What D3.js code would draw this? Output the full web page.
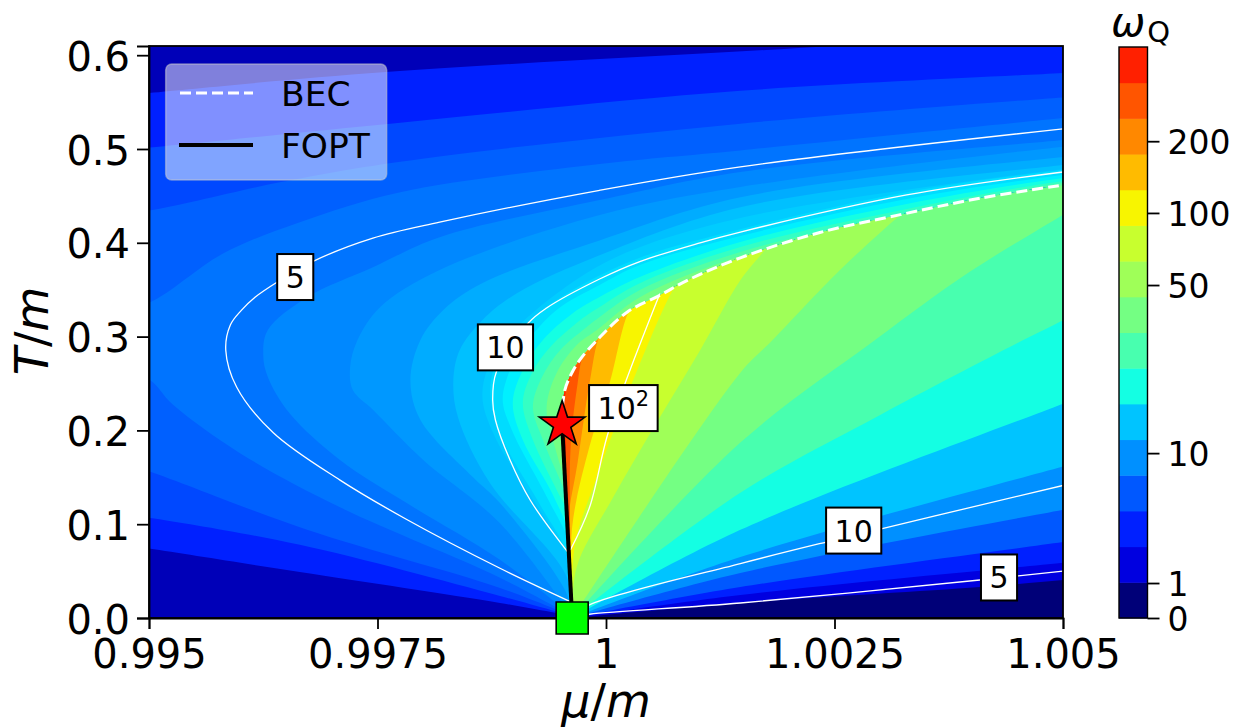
<html>
<head>
<title>Phase diagram</title>
<script src="https://d3js.org/d3.v7.min.js"></script>
<style>
body { margin: 0; background: #fff; }
text { font-family: "DejaVu Sans"; fill: #000; }
.domain { stroke-width: 1.8; }
.tick line { stroke-width: 1.8; }
</style>
</head>
<body>
<div></div>
<script>
// tick values and labels
var xTicks = [0.995, 0.9975, 1, 1.0025, 1.005];
var xTickLabels = ["0.995", "0.9975", "1", "1.0025", "1.005"];
var yTicks = [0, 0.1, 0.2, 0.3, 0.4, 0.5, 0.6];
var yTickLabels = ["0.0", "0.1", "0.2", "0.3", "0.4", "0.5", "0.6"];
// colorbar ticks, given as position along the 16 bands
var cbTicks = [0, 0.98, 4.62, 9.33, 11.35, 13.36];
var cbTickLabels = ["0", "1", "10", "50", "100", "200"];

// phase lines [mu/m, T/m]
var fopt = [[0.99963, 0], [0.99952, 0.2063]];
var bec = [[0.99951, 0.208], [0.99955, 0.243], [0.99963, 0.262], [0.99972, 0.276], [0.9999, 0.296], [1.00023, 0.326], [1.00059, 0.344], [1.00089, 0.36], [1.00147, 0.384], [1.00234, 0.411], [1.00322, 0.43], [1.00409, 0.4475], [1.005, 0.4615]];
var starPoint = [0.99952, 0.2063];
var squarePoint = [0.99963, 0];

// white contours
var line5Left = [[0.99962, 0.017], [0.99884, 0.053], [0.99782, 0.105], [0.99709, 0.147], [0.99636, 0.1975], [0.99596, 0.246], [0.99584, 0.2855], [0.99589, 0.3124], [0.99601, 0.328], [0.99616, 0.342], [0.9964, 0.358], [0.99679, 0.38], [0.99745, 0.405], [0.99818, 0.422], [0.99993, 0.456], [1.00147, 0.481], [1.005, 0.5215]];
var line10Left = [[0.99958, 0.0705], [0.99917, 0.1258], [0.99895, 0.1684], [0.99879, 0.2111], [0.99876, 0.2324], [0.9988, 0.2623], [0.99915, 0.3145], [0.99935, 0.3305], [0.99993, 0.3614], [1.00037, 0.38], [1.00103, 0.4], [1.00147, 0.4115], [1.00329, 0.451], [1.005, 0.4755]];
var line100 = [[0.99961, 0.0725], [0.99982, 0.118], [1.00001, 0.193], [1.00021, 0.2505], [1.00059, 0.346]];
var line10Right = [[0.99963, 0.001], [0.99982, 0.014], [1.00147, 0.058], [1.00241, 0.081], [1.005, 0.1413]];
var line5Right = [[0.99963, 0.001], [0.99982, 0.004], [1.00147, 0.016], [1.00409, 0.0405], [1.005, 0.05]];

// contour labels
var labelText = ["5", "10", "10", "10", "5"];
var labelSup = ["", "", "2", "", ""];
var labelMu = [0.9966, 0.9989, 1.00019, 1.00271, 1.0043];
var labelT = [0.3635, 0.2885, 0.2238, 0.0932, 0.0432];

// filled bands above the BEC and FOPT lines, outermost first
var apex = [0.99963, 0.002];
var bandA1 = [apex, [0.99884, 0.016], [0.99665, 0.049], [0.995, 0.074], [0.9945, 0.081], [0.9945, 0.555], [0.995, 0.5597], [0.99759, 0.582], [1.00248, 0.6098], [1.0055, 0.63]];
var bandA2 = [apex, [0.99884, 0.0235], [0.99665, 0.078], [0.995, 0.107], [0.9945, 0.113], [0.9945, 0.497], [0.995, 0.5015], [0.99775, 0.528], [1.00147, 0.562], [1.005, 0.581], [1.0055, 0.584]];
var bandA3 = [apex, [0.99884, 0.032], [0.99673, 0.094], [0.995, 0.1565], [0.9945, 0.172], [0.9945, 0.43], [0.995, 0.4345], [0.99643, 0.4645], [0.99775, 0.4865], [1.00147, 0.527], [1.005, 0.555], [1.0055, 0.558]];
var bandA4 = [apex, [0.99884, 0.043], [0.99709, 0.118], [0.996, 0.1755], [0.99526, 0.2275], [0.995, 0.2545], [0.9945, 0.274], [0.9945, 0.324], [0.995, 0.336], [0.99581, 0.3885], [0.99665, 0.422], [0.99775, 0.454], [0.99993, 0.484], [1.00147, 0.4985], [1.005, 0.533], [1.0055, 0.538]];
var bandA5 = [apex, [0.99884, 0.062], [0.99782, 0.1225], [0.99709, 0.1685], [0.99654, 0.218], [0.9963, 0.257], [0.99625, 0.28], [0.9963, 0.307], [0.99673, 0.342], [0.99745, 0.374], [0.99818, 0.406], [0.99993, 0.4455], [1.00147, 0.4755], [1.005, 0.5095], [1.0055, 0.514]];
var bandA6 = [apex, [0.99884, 0.101], [0.998, 0.1685], [0.99745, 0.222], [0.99723, 0.243], [0.9972, 0.267], [0.99728, 0.296], [0.99753, 0.3315], [0.99818, 0.371], [0.99993, 0.4295], [1.00147, 0.4595], [1.005, 0.5025], [1.0055, 0.507]];
var bandA7 = [apex, [0.99955, 0.03], [0.99884, 0.1225], [0.99854, 0.1505], [0.99797, 0.2111], [0.99786, 0.2537], [0.99797, 0.2964], [0.99822, 0.3284], [0.99865, 0.3571], [0.99993, 0.4025], [1.00147, 0.4485], [1.005, 0.4915], [1.0055, 0.496]];
var bandA8 = [apex, [0.99956, 0.046], [0.99873, 0.1439], [0.99838, 0.2143], [0.99833, 0.2537], [0.9984, 0.2857], [0.99865, 0.3177], [0.99903, 0.3465], [0.99993, 0.3867], [1.00147, 0.438], [1.005, 0.483], [1.0055, 0.488]];
var bandA9 = [apex, [0.99958, 0.062], [0.99917, 0.1311], [0.9988, 0.19], [0.99865, 0.2324], [0.9987, 0.2644], [0.99895, 0.3017], [0.9995, 0.3486], [1.00015, 0.3865], [1.00147, 0.4265], [1.005, 0.4785], [1.0055, 0.483]];
var bandA10 = [apex, [0.99958, 0.066], [0.99928, 0.1205], [0.9989, 0.1845], [0.99874, 0.2324], [0.99877, 0.2644], [0.99906, 0.307], [0.99955, 0.3445], [1.00037, 0.384], [1.00147, 0.4145], [1.00329, 0.454], [1.005, 0.4775], [1.0055, 0.482]];
var bandA11 = [apex, [0.9996, 0.0778], [0.99937, 0.1258], [0.99897, 0.2004], [0.99887, 0.2324], [0.99895, 0.2644], [0.99909, 0.2889], [0.99946, 0.3284], [0.99993, 0.355], [1.00037, 0.3763], [1.00147, 0.4072], [1.00329, 0.4467], [1.005, 0.4723], [1.0055, 0.477]];
var bandA12 = [apex, [0.99961, 0.0832], [0.99942, 0.1311], [0.99909, 0.1898], [0.99898, 0.2292], [0.99909, 0.2644], [0.99931, 0.2964], [0.99964, 0.3252], [0.99993, 0.3422], [1.00037, 0.3635], [1.00147, 0.4009], [1.00329, 0.4414], [1.005, 0.4691], [1.0055, 0.474]];
var bandA13 = [apex, [0.99961, 0.1045], [0.99946, 0.1365], [0.9992, 0.1898], [0.99909, 0.2292], [0.99919, 0.2612], [0.99939, 0.2889], [0.99972, 0.3177], [0.99993, 0.3316], [1.00037, 0.357], [1.00147, 0.3955], [1.00329, 0.436], [1.005, 0.4659], [1.0055, 0.47]];
var bandA14 = [apex, [0.99962, 0.1151], [0.99952, 0.1418], [0.99931, 0.1898], [0.9992, 0.2249], [0.9993, 0.2569], [0.9995, 0.2857], [0.99979, 0.3102], [0.99993, 0.3209], [1.00037, 0.3497], [1.00147, 0.3902], [1.00329, 0.4318], [1.005, 0.4638], [1.0055, 0.468]];
var bandA15 = [apex, [0.99962, 0.1258], [0.99955, 0.1471], [0.99942, 0.1898], [0.99935, 0.2249], [0.99946, 0.2612], [0.99968, 0.291], [0.9999, 0.307], [1.00037, 0.342], [1.00147, 0.386], [1.00329, 0.43], [1.005, 0.462], [1.0055, 0.466]];
var bandsAbove = [bandA1, bandA2, bandA3, bandA4, bandA5, bandA6, bandA7, bandA8, bandA9, bandA10, bandA11, bandA12, bandA13, bandA14, bandA15];

// filled bands below the BEC line, lowest first
var origin = [0.99963, 0];
var bandB1 = [origin, [1.00147, 0.016], [1.00409, 0.033], [1.005, 0.0405], [1.0055, 0.045]];
var bandB2 = [origin, [1.00147, 0.0245], [1.005, 0.059], [1.0055, 0.064]];
var bandB3 = [origin, [1.00147, 0.033], [1.005, 0.081], [1.0055, 0.088]];
var bandB4 = [origin, [1.00147, 0.048], [1.005, 0.1155], [1.0055, 0.125]];
var bandB5 = [origin, [1.00147, 0.065], [1.005, 0.1615], [1.0055, 0.175]];
var bandB6 = [origin, [1.00147, 0.094], [1.005, 0.2285], [1.0055, 0.248]];
var bandB7 = [origin, [1.00147, 0.1335], [1.003, 0.2165], [1.00456, 0.296], [1.005, 0.3175], [1.0055, 0.344]];
var bandB8 = [origin, [1.00147, 0.187], [1.00294, 0.296], [1.00398, 0.369], [1.005, 0.43], [1.0055, 0.46]];
var bandB9 = [origin, [1.00147, 0.2615], [1.00182, 0.296], [1.00256, 0.371], [1.00322, 0.43], [1.00354, 0.457]];
var bandB10 = [origin, [0.99968, 0.0545], [1.00008, 0.129], [1.00054, 0.206], [1.00103, 0.2855], [1.00147, 0.36], [1.00171, 0.389], [1.00201, 0.424]];
var bandB11 = [origin, [0.99966, 0.078], [0.99993, 0.158], [1.00032, 0.259], [1.00078, 0.358], [1.00092, 0.373]];
var bandB12 = [origin, [0.99963, 0.097], [0.99982, 0.183], [1.00004, 0.2505], [1.00024, 0.325], [1.00037, 0.344]];
var bandB13 = [origin, [0.99958, 0.097], [0.99969, 0.166], [0.99982, 0.2505], [0.99993, 0.3015], [1.00004, 0.3175]];
var bandB14 = [origin, [0.99961, 0.1765], [0.99969, 0.2505], [0.99974, 0.277], [0.99982, 0.291]];
var bandB15 = [origin, [0.99957, 0.105], [0.99956, 0.183], [0.99955, 0.2355], [0.99961, 0.257], [0.99966, 0.2695]];
var bandsBelow = [bandB1, bandB2, bandB3, bandB4, bandB5, bandB6, bandB7, bandB8, bandB9, bandB10, bandB11, bandB12, bandB13, bandB14, bandB15];

// colours
var aboveBase = "#0000b8";
var aboveColors = ["#0020ff", "#0048ff", "#0060ff", "#0074ff", "#0088ff", "#0098ff", "#00acff", "#00c0ff", "#00ccff", "#00dcff", "#00f0ff", "#14ffe3", "#34ffc4", "#54ffa4", "#74ff84"];
var jetBands = ["#000078", "#0000e0", "#0020ff", "#0058ff", "#0090ff", "#00c4ff", "#14ffe3", "#48ffaf", "#74ff83", "#9fff58", "#c8ff2e", "#f8f500", "#ffbb00", "#ff8800", "#ff5500", "#ff2000"];

var width = 1238, height = 728;
var left = 149, right = 1063, top_ = 46, bottom = 618;

var svg = d3.select("div").append("svg").attr("width", width).attr("height", height).style("display", "block");

var x = d3.scaleLinear().domain([0.995, 1.005]).range([left, right]);
var y = d3.scaleLinear().domain([0, 0.6098]).range([bottom, top_]);
var line = d3.line().x(function (d) { return x(d[0]); }).y(function (d) { return y(d[1]); }).curve(d3.curveCatmullRom);

var defs = svg.append("defs");
defs.append("clipPath").attr("id", "plot").append("rect")
	.attr("x", left).attr("y", top_).attr("width", right - left).attr("height", bottom - top_);
// the area right of FOPT and under BEC
defs.append("clipPath").attr("id", "below").append("path")
	.attr("d", "M" + x(fopt[0][0]) + "," + y(fopt[0][1]) + "L" + x(fopt[1][0]) + "," + y(fopt[1][1]) + line(bec).replace("M", "L") + "L" + x(1.005) + "," + y(0) + "Z");

var plot = svg.append("g").attr("clip-path", "url(#plot)");
plot.append("rect").attr("x", left).attr("y", top_).attr("width", right - left).attr("height", bottom - top_).attr("fill", aboveBase);

plot.selectAll(".above").data(bandsAbove).enter().append("path")
	.attr("class", "above")
	.attr("d", function (d) { return line(d) + "L" + x(1.0055) + "," + y(0) + "Z"; })
	.attr("fill", function (d, i) { return aboveColors[i]; });

var below = plot.append("g").attr("clip-path", "url(#below)");
below.append("rect").attr("x", left).attr("y", top_).attr("width", right - left).attr("height", bottom - top_).attr("fill", jetBands[0]);
below.selectAll(".below").data(bandsBelow).enter().append("path")
	.attr("class", "below")
	.attr("d", function (d) {
		var end = d[d.length - 1];
		return line(d) + "L" + x(end[0]) + "," + y(0.7) + "L" + x(0.999) + "," + y(0.7) + "L" + x(0.999) + "," + y(0) + "Z";
	})
	.attr("fill", function (d, i) { return jetBands[i + 1]; });

// white contours
plot.selectAll(".contour").data([line5Left, line10Left, line100, line10Right, line5Right]).enter().append("path")
	.attr("class", "contour")
	.attr("d", line)
	.attr("fill", "none").attr("stroke", "#fff").attr("stroke-width", 1.3);

// phase lines
var straight = d3.line().x(function (d) { return x(d[0]); }).y(function (d) { return y(d[1]); });
plot.append("path").attr("d", line(bec)).attr("fill", "none").attr("stroke", "#fff").attr("stroke-width", 3).attr("stroke-dasharray", "11,5");
plot.append("path").attr("d", straight(fopt)).attr("fill", "none").attr("stroke", "#000").attr("stroke-width", 4);

// contour labels
labelText.forEach(function (t, i) {
	var g = svg.append("g").attr("transform", "translate(" + x(labelMu[i]) + "," + y(labelT[i]) + ")");
	var r = g.append("rect").attr("fill", "#fff").attr("stroke", "#000").attr("stroke-width", 2);
	var txt = g.append("text").attr("font-size", 30).attr("text-anchor", "middle").attr("y", 11).text(t);
	if (labelSup[i]) txt.append("tspan").attr("font-size", 21).attr("dy", -13).text(labelSup[i]);
	var w = txt.node().getBBox().width + 17;
	r.attr("x", -w / 2).attr("width", w).attr("y", -23).attr("height", 46);
});

// axes
var xAxis = svg.append("g").attr("transform", "translate(0," + bottom + ")")
	.call(d3.axisBottom(x).tickValues(xTicks).tickSize(11).tickPadding(10.6).tickFormat(function (d, i) { return xTickLabels[i]; }));
var yAxis = svg.append("g").attr("transform", "translate(" + left + ",0)")
	.call(d3.axisLeft(y).tickValues(yTicks).tickSize(12).tickPadding(7).tickFormat(function (d, i) { return yTickLabels[i]; }));
xAxis.selectAll("text").attr("font-size", 40).attr("font-family", "DejaVu Sans");
yAxis.selectAll("text").attr("font-size", 40).attr("font-family", "DejaVu Sans").attr("dy", "0.38em");
svg.append("rect").attr("x", left).attr("y", top_).attr("width", right - left).attr("height", bottom - top_)
	.attr("fill", "none").attr("stroke", "#000").attr("stroke-width", 1.8);

// markers sit on top of the frame
svg.append("path").attr("d", d3.symbol().type(d3.symbolStar).size(646))
	.attr("transform", "translate(" + x(starPoint[0]) + "," + y(starPoint[1]) + ")")
	.attr("fill", "#ff0000").attr("stroke", "#000").attr("stroke-width", 1.6);
svg.append("path").attr("d", d3.symbol().type(d3.symbolSquare).size(1024))
	.attr("transform", "translate(" + x(squarePoint[0]) + "," + y(squarePoint[1]) + ")")
	.attr("fill", "#00ff00").attr("stroke", "#000").attr("stroke-width", 1.6);

// axis titles
var xLabel = svg.append("text").attr("x", 606).attr("y", 717).attr("text-anchor", "middle").attr("font-size", 46);
xLabel.append("tspan").attr("font-style", "italic").text("\u03bc");
xLabel.append("tspan").text("/");
xLabel.append("tspan").attr("font-style", "italic").text("m");
var yLabel = svg.append("text").attr("transform", "translate(48,331) rotate(-90)").attr("text-anchor", "middle").attr("font-size", 46);
yLabel.append("tspan").attr("font-style", "italic").text("T");
yLabel.append("tspan").text("/");
yLabel.append("tspan").attr("font-style", "italic").text("m");

// legend
var legend = svg.append("g");
legend.append("rect").attr("x", 165.7).attr("y", 64).attr("width", 221).attr("height", 116).attr("rx", 6)
	.attr("fill", "#fff").attr("fill-opacity", 0.5).attr("stroke", "#ccc").attr("stroke-opacity", 0.5).attr("stroke-width", 1.5);
legend.append("line").attr("x1", 180).attr("x2", 253).attr("y1", 93).attr("y2", 93).attr("stroke", "#fff").attr("stroke-width", 3).attr("stroke-dasharray", "11,5");
legend.append("line").attr("x1", 179).attr("x2", 253).attr("y1", 145).attr("y2", 145).attr("stroke", "#000").attr("stroke-width", 4);
legend.append("text").attr("x", 281).attr("y", 105.5).attr("font-size", 34.5).text("BEC");
legend.append("text").attr("x", 281).attr("y", 158).attr("font-size", 34.5).text("FOPT");

// colorbar
var cbLeft = 1119, cbRight = 1147.5, cbTop = 47;
var cb = d3.scaleLinear().domain([0, jetBands.length]).range([bottom, cbTop]);
svg.selectAll(".cb").data(jetBands).enter().append("rect")
	.attr("class", "cb")
	.attr("x", cbLeft).attr("width", cbRight - cbLeft)
	.attr("y", function (d, i) { return cb(i + 1); })
	.attr("height", function (d, i) { return cb(i) - cb(i + 1) + 0.5; })
	.attr("fill", function (d) { return d; });
svg.append("rect").attr("x", cbLeft).attr("y", cbTop).attr("width", cbRight - cbLeft).attr("height", bottom - cbTop)
	.attr("fill", "none").attr("stroke", "#000").attr("stroke-width", 1.4);
var cbAxis = svg.append("g").attr("transform", "translate(" + cbRight + ",0)")
	.call(d3.axisRight(cb).tickValues(cbTicks).tickSize(12).tickPadding(8).tickFormat(function (d, i) { return cbTickLabels[i]; }));
cbAxis.select(".domain").remove();
cbAxis.selectAll("text").attr("font-size", 33).attr("font-family", "DejaVu Sans").attr("dy", "0.38em");

var cbTitle = svg.append("text").attr("x", 1111).attr("y", 36);
cbTitle.append("tspan").attr("font-size", 41).attr("font-style", "italic").text("\u03c9");
cbTitle.append("tspan").attr("font-size", 29).attr("dx", 2).attr("dy", 6).text("Q");
</script>
</body>
</html>
